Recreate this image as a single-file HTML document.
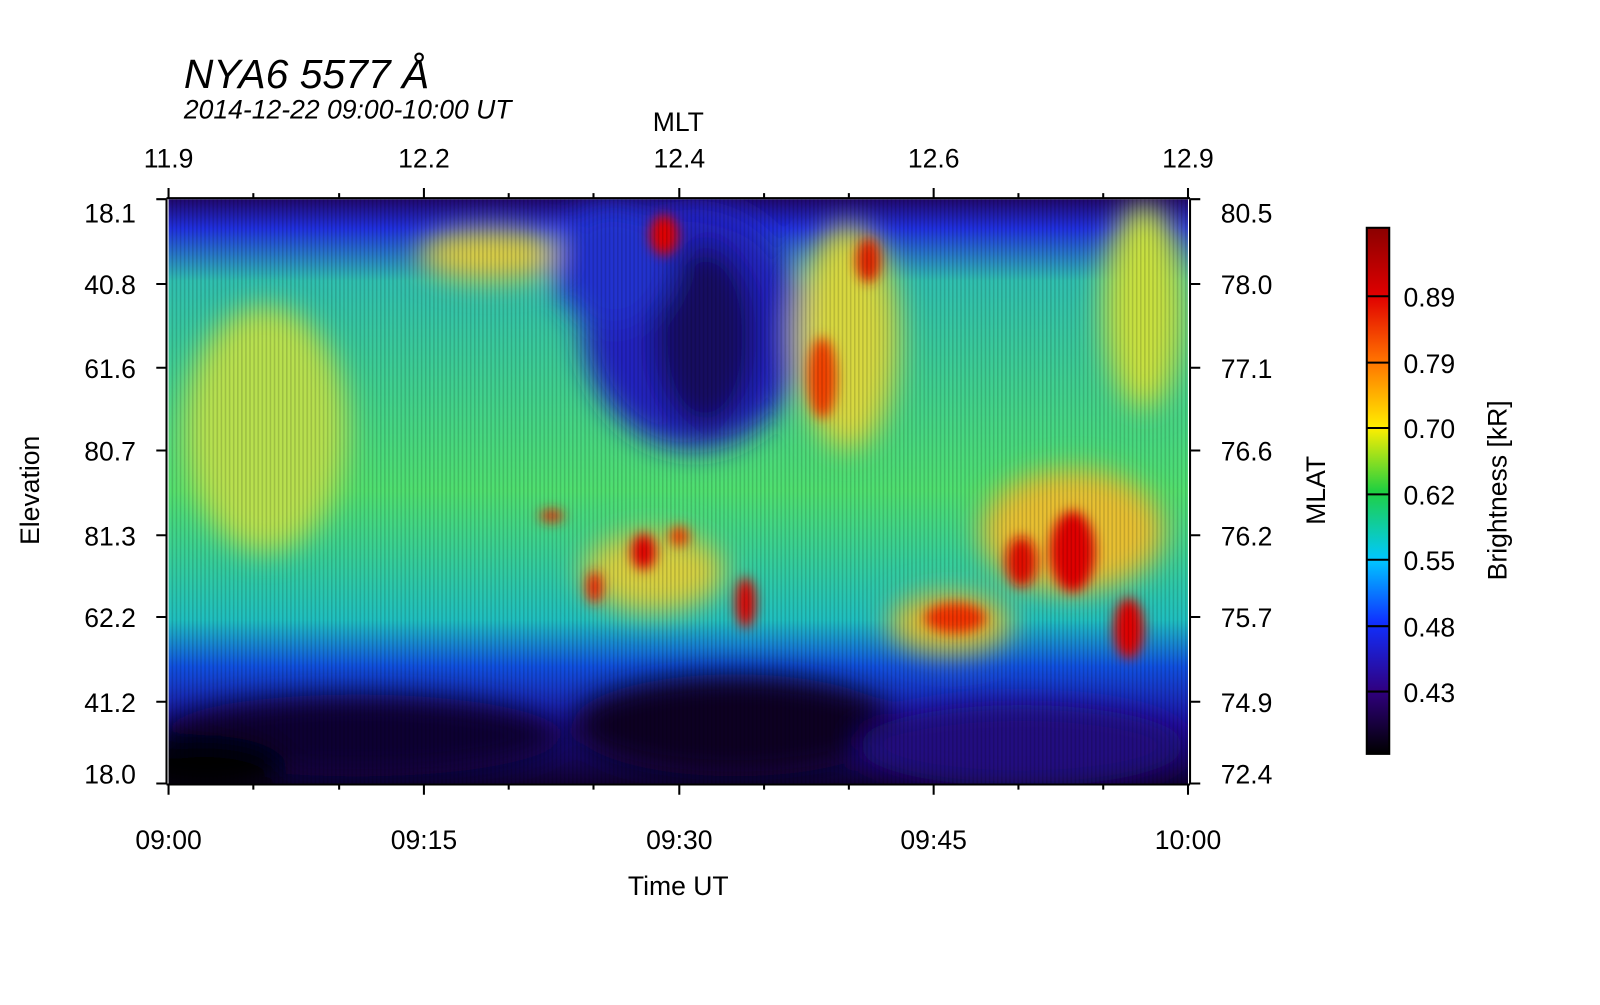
<!DOCTYPE html>
<html><head><meta charset="utf-8"><style>
html,body{margin:0;padding:0;background:#fff;}
body{width:1600px;height:1000px;overflow:hidden;font-family:"Liberation Sans",sans-serif;}
</style></head><body>
<svg width="1600" height="1000" viewBox="0 0 1600 1000" xmlns="http://www.w3.org/2000/svg" font-family="Liberation Sans, sans-serif">
<defs>
<filter id="b" x="-20%" y="-20%" width="140%" height="140%"><feGaussianBlur stdDeviation="14"/></filter>
<filter id="bs" x="-50%" y="-50%" width="200%" height="200%"><feGaussianBlur stdDeviation="6"/></filter>
<clipPath id="pc"><rect x="165" y="195" width="998" height="572"/></clipPath>
<linearGradient id="cb" x1="0" y1="0" x2="0" y2="1">
<stop offset="0" stop-color="#8b0000"/>
<stop offset="0.13" stop-color="#e00000"/>
<stop offset="0.25" stop-color="#ff7000"/>
<stop offset="0.38" stop-color="#ffee00"/>
<stop offset="0.5" stop-color="#20d040"/>
<stop offset="0.63" stop-color="#00c8ff"/>
<stop offset="0.75" stop-color="#1030ff"/>
<stop offset="0.88" stop-color="#300080"/>
<stop offset="1" stop-color="#000000"/>
</linearGradient>
<linearGradient id="vg" x1="0" y1="0" x2="0" y2="1">
<stop offset="0" stop-color="#200870"/>
<stop offset="0.05" stop-color="#2030e0"/>
<stop offset="0.14" stop-color="#30c0b0"/>
<stop offset="0.5" stop-color="#50e070"/>
<stop offset="0.72" stop-color="#20c0c0"/>
<stop offset="0.8" stop-color="#1050e0"/>
<stop offset="0.9" stop-color="#2010a0"/>
<stop offset="1" stop-color="#100030"/>
</linearGradient>
<pattern id="st" width="4" height="10" patternUnits="userSpaceOnUse"><rect width="1.5" height="10" fill="#000" opacity="0.15"/></pattern>
</defs>
<g transform="scale(1.0215)">
<g clip-path="url(#pc)">
<rect x="165" y="195" width="998" height="572" fill="url(#vg)"/>
<g filter="url(#b)">
<ellipse cx="260" cy="420" rx="80" ry="120" fill="#b8e050"/>
<ellipse cx="480" cy="250" rx="70" ry="25" fill="#e0d040"/>
<ellipse cx="680" cy="320" rx="110" ry="120" fill="#2020c0"/>
<ellipse cx="690" cy="330" rx="50" ry="90" fill="#180860"/>
<ellipse cx="600" cy="260" rx="60" ry="60" fill="#2030d0"/>
<ellipse cx="830" cy="330" rx="50" ry="110" fill="#d8d840"/>
<ellipse cx="1120" cy="300" rx="40" ry="100" fill="#c8e040"/>
<ellipse cx="1050" cy="520" rx="90" ry="60" fill="#e8c030"/>
<ellipse cx="930" cy="610" rx="60" ry="30" fill="#e0c030"/>
<ellipse cx="640" cy="560" rx="70" ry="40" fill="#d8d040"/>
<ellipse cx="350" cy="720" rx="200" ry="40" fill="#100030"/>
<ellipse cx="720" cy="710" rx="160" ry="50" fill="#0a0020"/>
<ellipse cx="1000" cy="730" rx="160" ry="40" fill="#200880"/>
<ellipse cx="200" cy="750" rx="80" ry="30" fill="#000"/>
</g>
<g filter="url(#bs)">
<ellipse cx="650" cy="230" rx="14" ry="20" fill="#e00000"/>
<ellipse cx="850" cy="255" rx="12" ry="22" fill="#e02000"/>
<ellipse cx="805" cy="370" rx="14" ry="40" fill="#f04000"/>
<ellipse cx="1050" cy="540" rx="22" ry="40" fill="#e00000"/>
<ellipse cx="1105" cy="615" rx="15" ry="30" fill="#e00000"/>
<ellipse cx="1000" cy="550" rx="15" ry="25" fill="#e01000"/>
<ellipse cx="935" cy="605" rx="30" ry="15" fill="#f03000"/>
<ellipse cx="630" cy="540" rx="12" ry="18" fill="#e00000"/>
<ellipse cx="730" cy="590" rx="10" ry="25" fill="#e00000"/>
<ellipse cx="582" cy="575" rx="8" ry="16" fill="#f02000"/>
<ellipse cx="540" cy="505" rx="12" ry="6" fill="#f02000"/>
<ellipse cx="665" cy="525" rx="10" ry="10" fill="#f04000"/>
</g>
<rect x="165" y="195" width="998" height="572" fill="url(#st)"/>
</g>
<g stroke="#000" stroke-width="2" fill="none">
<line x1="163" y1="195" x2="163" y2="768"/>
<line x1="1165" y1="195" x2="1165" y2="768"/>
<line x1="163" y1="768" x2="1165" y2="768"/>
<line x1="163" y1="194" x2="1165" y2="194"/>
<path d="M165 768v10M415 768v10M665 768v10M914 768v10M1163 768v10 M165 194v-10M415 194v-10M665 194v-10M914 194v-10M1163 194v-10"/>
<path d="M248 768v5M332 768v5M498 768v5M581 768v5M748 768v5M831 768v5M997 768v5M1080 768v5 M248 194v-5M332 194v-5M498 194v-5M581 194v-5M748 194v-5M831 194v-5M997 194v-5M1080 194v-5"/>
<path d="M153 195h10M153 278h10M153 360h10M153 441h10M153 524h10M153 604h10M153 687h10M153 767h10 M1165 195h10M1165 278h10M1165 360h10M1165 441h10M1165 524h10M1165 604h10M1165 687h10M1165 767h10"/>
</g>
<g font-size="26" fill="#000">
<g text-anchor="end">
<text x="133" y="218">18.1</text><text x="133" y="288">40.8</text><text x="133" y="370">61.6</text><text x="133" y="451">80.7</text><text x="133" y="534">81.3</text><text x="133" y="614">62.2</text><text x="133" y="697">41.2</text><text x="133" y="767">18.0</text>
</g>
<text x="1195" y="218">80.5</text><text x="1195" y="288">78.0</text><text x="1195" y="370">77.1</text><text x="1195" y="451">76.6</text><text x="1195" y="534">76.2</text><text x="1195" y="614">75.7</text><text x="1195" y="697">74.9</text><text x="1195" y="767">72.4</text>
<g text-anchor="middle">
<text x="165" y="831">09:00</text><text x="415" y="831">09:15</text><text x="665" y="831">09:30</text><text x="914" y="831">09:45</text><text x="1163" y="831">10:00</text>
<text x="165" y="164">11.9</text><text x="415" y="164">12.2</text><text x="665" y="164">12.4</text><text x="914" y="164">12.6</text><text x="1163" y="164">12.9</text>
<text x="664" y="876">Time UT</text>
<text x="664" y="128">MLT</text>
</g>
<text transform="translate(38,480) rotate(-90)" text-anchor="middle">Elevation</text>
<text transform="translate(1297,480) rotate(-90)" text-anchor="middle">MLAT</text>
<text transform="translate(1475,480) rotate(-90)" text-anchor="middle">Brightness [kR]</text>
<text x="1374" y="300">0.89</text><text x="1374" y="365">0.79</text><text x="1374" y="429">0.70</text><text x="1374" y="494">0.62</text><text x="1374" y="558">0.55</text><text x="1374" y="623">0.48</text><text x="1374" y="687">0.43</text>
</g>
<text x="180" y="86" font-size="40" font-style="italic">NYA6 5577 Å</text>
<text x="180" y="116" font-size="26" font-style="italic">2014-12-22 09:00-10:00 UT</text>
<rect x="1338" y="223" width="22" height="515" fill="url(#cb)" stroke="#000" stroke-width="2"/>
<g stroke="#000" stroke-width="2"><path d="M1338 290h22M1338 355h22M1338 419h22M1338 484h22M1338 548h22M1338 613h22M1338 677h22"/></g>
</g>
</svg>
</body></html>
